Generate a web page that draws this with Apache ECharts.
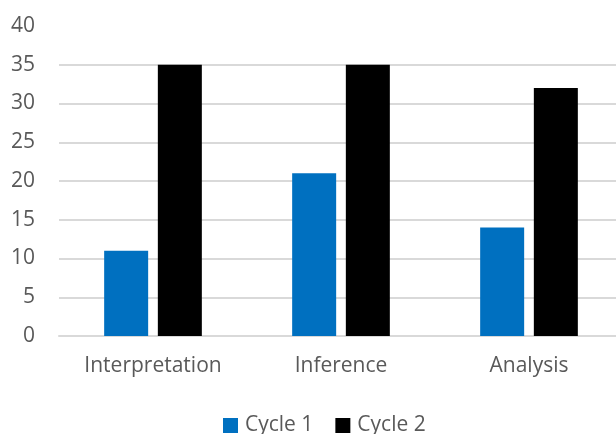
<!DOCTYPE html>
<html>
<head>
<meta charset="utf-8">
<script src="https://cdn.jsdelivr.net/npm/echarts@6/dist/echarts.min.js"></script>
<style>
  html, body { margin: 0; padding: 0; background: #fff; }
  #main { width: 616px; height: 434px; }
</style>
</head>
<body>
<div id="main"></div>
<script>
var categories = ['Interpretation', 'Inference', 'Analysis'];
var cycle1 = [11, 21, 14];
var cycle2 = [35, 35, 32];

var myChart = echarts.init(document.getElementById('main'));
var font = 'Open Sans';
// gridline colours, last one (value 40) hidden like the reference
var gridColors = ['#d9d9d9', '#d9d9d9', '#d9d9d9', '#d9d9d9', '#d9d9d9',
    '#d9d9d9', '#d9d9d9', '#d9d9d9', 'rgba(0,0,0,0)'];
var option = {
    animation: false,
    legend: {
        data: ['Cycle 1', 'Cycle 2'],
        top: 410,
        left: 218,
        itemWidth: 15,
        itemHeight: 15,
        itemGap: 22,
        icon: 'rect',
        textStyle: { color: '#595959', fontSize: 21, fontFamily: font, padding: [0, 0, 0, 2] }
    },
    grid: { left: 59, top: 26, width: 564, height: 310, outerBoundsMode: 'none' },
    xAxis: {
        type: 'category',
        data: categories,
        axisLine: { show: true, lineStyle: { color: '#d9d9d9', width: 2 } },
        axisTick: { show: false },
        axisLabel: { color: '#595959', fontSize: 21, fontFamily: font, margin: 20 }
    },
    yAxis: {
        type: 'value',
        min: 0,
        max: 40,
        interval: 5,
        axisLine: { show: false },
        axisTick: { show: false },
        axisLabel: { color: '#595959', fontSize: 21, fontFamily: font, margin: 24 },
        splitLine: { show: true, lineStyle: { color: gridColors, width: 2 } }
    },
    series: [{
        name: 'Cycle 1',
        type: 'bar',
        data: cycle1,
        barWidth: 44,
        barGap: '22%',
        itemStyle: { color: '#0070c0' }
    }, {
        name: 'Cycle 2',
        type: 'bar',
        data: cycle2,
        barWidth: 44,
        itemStyle: { color: '#000000' }
    }]
};
myChart.setOption(option);
</script>
</body>
</html>
